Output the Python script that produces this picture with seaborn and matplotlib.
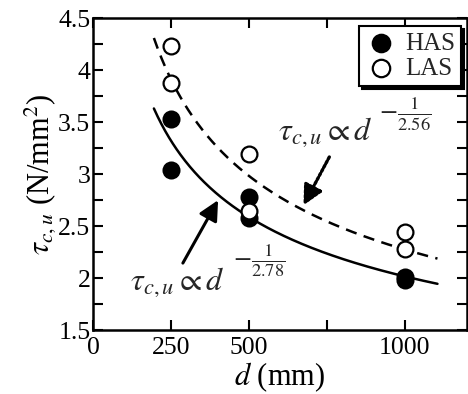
import numpy as np
import pandas as pd
import matplotlib
matplotlib.use("Agg")
import matplotlib.pyplot as plt
import seaborn as sns

# ---- data ----
has_d = [250, 250, 500, 500, 1000, 1000]
has_tau = [3.53, 3.04, 2.78, 2.58, 2.01, 1.98]
las_d = [250, 250, 500, 500, 1000, 1000]
las_tau = [4.23, 3.88, 3.19, 2.65, 2.44, 2.28]

# fitted power laws  tau = C * d^(-1/n)
has_coef, has_n = 24.2, 2.78
las_coef, las_n = 33.8, 2.56
fit_d_min, fit_d_max = 195, 1105

x_ticks = [0, 250, 500, 750, 1000]
x_ticklabels = ["0", "250", "500", "", "1000"]
y_ticks = [1.5, 2, 2.5, 3, 3.5, 4, 4.5]
y_ticklabels = ["1.5", "2", "2.5", "3", "3.5", "4", "4.5"]

sns.set_theme(style="ticks")
plt.rcParams["font.family"] = ["Liberation Serif", "DejaVu Serif"]
plt.rcParams["mathtext.fontset"] = "stix"

fig = plt.figure(figsize=(4.68, 3.94), dpi=100)
ax = fig.add_axes([0.199, 0.162, 0.799, 0.792])

d_fit = np.linspace(fit_d_min, fit_d_max, 300)
fit_df = pd.DataFrame({
    "d": np.concatenate([d_fit, d_fit]),
    "tau": np.concatenate([has_coef * d_fit ** (-1 / has_n), las_coef * d_fit ** (-1 / las_n)]),
    "series": ["HAS fit"] * len(d_fit) + ["LAS fit"] * len(d_fit),
})
sns.lineplot(data=fit_df[fit_df.series == "HAS fit"], x="d", y="tau", ax=ax,
             color="black", lw=1.8, legend=False)
sns.lineplot(data=fit_df[fit_df.series == "LAS fit"], x="d", y="tau", ax=ax,
             color="black", lw=1.8, legend=False, dashes=False, linestyle=(0, (4.5, 3)))

pts = pd.DataFrame({"d": has_d + las_d, "tau": has_tau + las_tau,
                    "group": ["HAS"] * len(has_d) + ["LAS"] * len(las_d)})
sns.scatterplot(data=pts[pts.group == "HAS"], x="d", y="tau", ax=ax, s=130,
                color="black", edgecolor="black", linewidth=1.6, label="HAS", zorder=3)
sns.scatterplot(data=pts[pts.group == "LAS"], x="d", y="tau", ax=ax, s=130,
                facecolor="white", edgecolor="black", linewidth=1.6, label="LAS", zorder=3)

ax.set_xlim(0, 1200)
ax.set_ylim(1.5, 4.5)
ax.set_xticks(x_ticks)
ax.set_xticklabels(x_ticklabels)
ax.set_yticks(y_ticks)
ax.set_yticklabels(y_ticklabels)
ax.set_yticks(np.arange(1.75, 4.5, 0.5), minor=True)
ax.tick_params(axis="both", which="both", direction="in", top=True, right=True,
               width=1.5, labelsize=18.5, color="black", labelcolor="black")
ax.tick_params(axis="x", which="major", length=7, pad=5)
ax.tick_params(axis="y", which="major", length=7, pad=2)
ax.tick_params(axis="both", which="minor", length=7)
for sp in ax.spines.values():
    sp.set_linewidth(1.8)
    sp.set_color("black")

ax.set_xlabel(r"$d$ (mm)", fontsize=22, labelpad=1, color="black")
ax.set_ylabel(r"$\tau_{c,u}$ (N/mm$^2$)", fontsize=22, labelpad=0, color="black")

leg = ax.legend(loc="upper right", bbox_to_anchor=(0.985, 0.975), fontsize=18,
                frameon=True, fancybox=False, edgecolor="black", framealpha=1,
                shadow={"color": "black", "alpha": 1}, handletextpad=0.3,
                borderpad=0.25, labelspacing=0.1, handlelength=1.3, borderaxespad=0,
                markerscale=1.1)
leg.get_frame().set_linewidth(1.5)

# annotations
ax.text(592, 3.33, r"$\tau_{c,u}\propto d$", fontsize=23, ha="left", va="baseline")
ax.text(1000, 3.58, r"$-\frac{1}{2.56}$", fontsize=19, ha="center", va="center")
ax.text(117, 1.885, r"$\tau_{c,u}\propto d$", fontsize=23, ha="left", va="baseline")
ax.text(534, 2.17, r"$-\frac{1}{2.78}$", fontsize=19, ha="center", va="center")

ax.annotate("", xy=(675, 2.70), xytext=(758, 3.165),
            arrowprops=dict(arrowstyle="-|>,head_length=0.8,head_width=0.4",
                            mutation_scale=15, color="black", lw=2.4,
                            linestyle=(0, (0.7, 0.7)), shrinkA=0, shrinkB=0))
ax.annotate("", xy=(401, 2.75), xytext=(288, 2.145),
            arrowprops=dict(arrowstyle="-|>,head_length=0.8,head_width=0.4",
                            mutation_scale=15, color="black", lw=2.2,
                            shrinkA=0, shrinkB=0))

fig.savefig("out.png", dpi=100)
